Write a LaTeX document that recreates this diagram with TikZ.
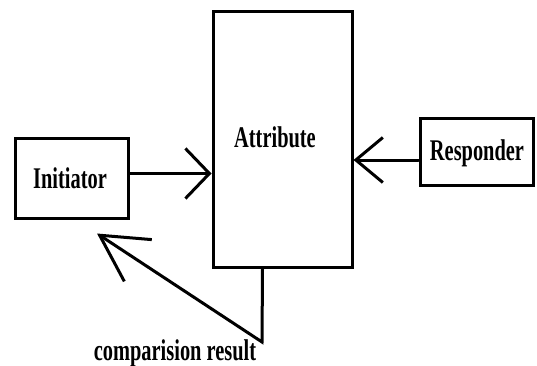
\documentclass[tikz,border=0pt]{standalone}
\usepackage{fontspec}
\setmainfont{Liberation Serif}
\usetikzlibrary{arrows.meta}
\tikzset{
  box/.style={draw=black, line width=3pt, fill=white, inner sep=0pt},
  lbl/.style={font=\bfseries\fontsize{30}{32}\selectfont, inner sep=0pt},
  conn/.style={line width=3pt, line cap=round, line join=miter},
}
\newcommand{\sq}[1]{\scalebox{0.68}[1]{#1}}
\begin{document}
\begin{tikzpicture}[x=1pt,y=-1pt]
\useasboundingbox (0,0) rectangle (537,366);
\node[box, minimum width=113pt, minimum height=79pt] (init) at (71.5,178.5) {};
\node[lbl] (initt) at (70,178) {\sq{Initiator}};
\node[box, minimum width=139pt, minimum height=255pt] (attr) at (282.5,139.5) {};
\node[lbl] (attrt) at (275,137) {\sq{Attribute}};
\node[box, minimum width=113pt, minimum height=66pt] (resp) at (476.5,152) {};
\node[lbl] (respt) at (477,153) {\sq{Responder}};
\node[lbl] (cmp) at (175,353) {\sq{comparision result}};
% Initiator -> Attribute
\coordinate (a1) at ([yshift=5pt]init.east);
\draw[conn, -{Straight Barb[length=24pt,width=50pt]}] (a1) -- (attr.west |- a1);
% Responder -> Attribute
\coordinate (r1) at ([yshift=-8pt]resp.west);
\draw[conn, -{Straight Barb[length=27pt,width=45pt]}] (r1) -- (attr.east |- r1);
% feedback
\coordinate (f1) at ([xshift=-20pt]attr.south);
\coordinate (f2) at (262,342);
\coordinate (ftip) at ([shift={(25.5pt,-14pt)}]init.south);
\draw[conn, -{Straight Barb[length=46pt,width=50pt]}] (f1) -- (f2) -- (ftip);
\end{tikzpicture}
\end{document}
